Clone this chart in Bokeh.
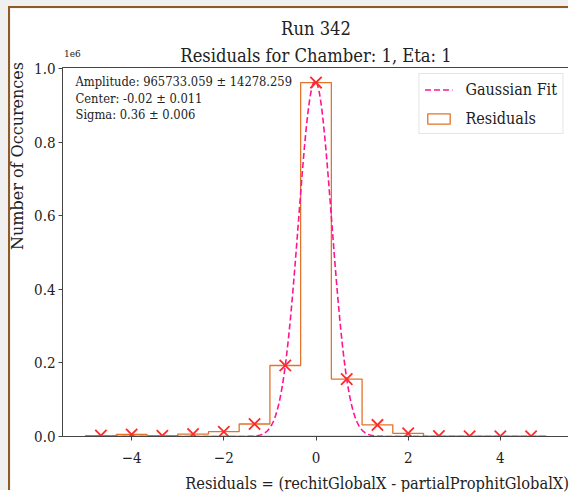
import numpy as np
from bokeh.plotting import figure
from bokeh.models import Label, Range1d, FixedTicker, PrintfTickFormatter, Title, Div
from bokeh.layouts import column
from bokeh.embed import file_html
from bokeh.resources import INLINE

# ---------------- data ----------------
title_line1 = "Run 342"
title_line2 = "Residuals for Chamber: 1, Eta: 1"
x_label = "Residuals = (rechitGlobalX - partialProphitGlobalX)"
y_label = "Number of Occurences"
y_scale_label = "1e6"
y_scale = 1e6

bin_edges = [-5.0, -4.3333, -3.6667, -3.0, -2.3333, -1.6667, -1.0, -0.3333,
             0.3333, 1.0, 1.6667, 2.3333, 3.0, 3.6667, 4.3333, 5.0]
counts = [2500, 5500, 2000, 6500, 13000, 34000, 193000, 962000,
          156000, 31500, 8500, 1200, 900, 900, 900]

fit_amplitude = 965733.059
fit_amplitude_err = 14278.259
fit_center = -0.02
fit_center_err = 0.011
fit_sigma = 0.36
fit_sigma_err = 0.006

x_ticks = [-4, -2, 0, 2, 4]
x_tick_labels = ["\u22124", "\u22122", "0", "2", "4"]
y_ticks = [0.0, 0.2, 0.4, 0.6, 0.8, 1.0]

# ---------------- derived ----------------
edges = np.array(bin_edges)
cnt = np.array(counts, dtype=float) / y_scale
centers = 0.5 * (edges[:-1] + edges[1:])

step_x = np.repeat(edges, 2)
step_y = np.concatenate([[0.0], np.repeat(cnt, 2), [0.0]])

fit_x = np.linspace(edges[0], edges[-1], 600)
fit_y = fit_amplitude * np.exp(-(fit_x - fit_center) ** 2 / (2 * fit_sigma ** 2)) / y_scale

COND = "DejaVu Serif Condensed"
SERIF = "DejaVu Serif"
TXT = "#222222"
HIST_C = "#e0742a"
FIT_C = "#ff1493"
MARK_C = "#ff2a2a"
SPINE = "#444444"

p = figure(width=560, height=484,
           x_range=Range1d(-5.5, 5.5), y_range=Range1d(0, 1.003),
           output_backend="svg", toolbar_location=None,
           min_border_left=52, min_border_right=1,
           min_border_top=59, min_border_bottom=56)
p.background_fill_color = "white"
p.border_fill_color = "white"
p.outline_line_color = SPINE
p.outline_line_width = 1
p.xgrid.visible = False
p.ygrid.visible = False

p.patch(step_x, step_y, fill_alpha=0, line_color=HIST_C, line_width=1.3,
        legend_label="Residuals")
p.line(fit_x, fit_y, line_color=FIT_C, line_dash="6 3", line_width=1.6,
       legend_label="Gaussian Fit")
p.scatter(centers, cnt, marker="x", size=16, line_color=MARK_C, line_width=1.8)

for ax in (p.xaxis, p.yaxis):
    ax.axis_line_color = SPINE
    ax.major_tick_line_color = SPINE
    ax.minor_tick_line_color = None
    ax.major_tick_in = 0
    ax.major_tick_out = 4
    ax.major_label_text_font = COND
    ax.major_label_text_font_size = "15px"
    ax.major_label_text_color = TXT

p.xaxis.ticker = FixedTicker(ticks=x_ticks)
p.xaxis.major_label_overrides = dict(zip(x_ticks, x_tick_labels))
p.xaxis.major_label_standoff = 11
p.yaxis.ticker = FixedTicker(ticks=y_ticks)
p.yaxis.formatter = PrintfTickFormatter(format="%.1f")
p.yaxis.major_label_standoff = 3

# legend
leg = p.legend[0]
leg.items = [leg.items[1], leg.items[0]]
leg.location = "top_right"
leg.margin = 6
leg.padding = 5
leg.spacing = 9
leg.glyph_width = 28
leg.glyph_height = 13
leg.label_height = 20
leg.label_standoff = 13
leg.label_text_font = COND
leg.label_text_font_size = "16px"
leg.label_text_color = TXT
leg.border_line_color = "#cccccc"
leg.background_fill_alpha = 0.85

# titles (stacked above the frame)
p.add_layout(Title(text=title_line2, align="center", text_font=COND,
                   text_font_size="18.2px", text_font_style="normal",
                   text_color=TXT, standoff=3), "above")
p.add_layout(Title(text=title_line1, align="center", text_font=COND,
                   text_font_size="18.2px", text_font_style="normal",
                   text_color=TXT, standoff=6), "above")

# fit statistics box (data units, inside the frame)
def xd(px):
    return (px - 315.5) / 46.09

def yd(py):
    return (436.0 - py) / 368.0

stats = [
    (yd(80.7), f"Amplitude: {fit_amplitude:.3f} \u00b1 {fit_amplitude_err:.3f}"),
    (yd(97.5), f"Center: {fit_center:.2f} \u00b1 {fit_center_err:.3f}"),
    (yd(114), f"Sigma: {fit_sigma:.2f} \u00b1 {fit_sigma_err:.3f}"),
]
for yy, txt in stats:
    p.add_layout(Label(x=xd(75), y=yy, text=txt, text_font=COND,
                       text_font_size="12.8px", text_align="left",
                       text_baseline="alphabetic", text_color=TXT))

p.styles = {"border-left": "2px solid #8f5a26", "border-top": "2px solid #8f5a26"}

# texts outside the plotting frame (page-level, absolutely positioned)
scale_note = Div(text=y_scale_label, margin=0,
                 styles={"position": "absolute", "left": "64px", "top": "48px",
                         "font-family": COND, "font-size": "10px",
                         "line-height": "11px", "color": TXT,
                         "white-space": "nowrap"})
xlab = Div(text=x_label, margin=0, width=400,
           styles={"position": "absolute", "left": "169px", "top": "475px",
                   "font-family": COND, "font-size": "16.3px",
                   "line-height": "17px", "color": TXT, "text-align": "right",
                   "white-space": "nowrap"})
ylab = Div(text=y_label, margin=0, width=190,
           styles={"position": "absolute", "left": "10px", "top": "252px",
                   "font-family": SERIF, "font-size": "16px",
                   "line-height": "16px", "color": TXT, "text-align": "right",
                   "white-space": "nowrap", "transform": "rotate(-90deg)",
                   "transform-origin": "0 0"})

page = column(p, scale_note, xlab, ylab,
              styles={"background-color": "#f0f0f0",
                      "padding-left": "8px", "padding-top": "6px"})

open("out.html", "w").write(file_html(page, INLINE))
